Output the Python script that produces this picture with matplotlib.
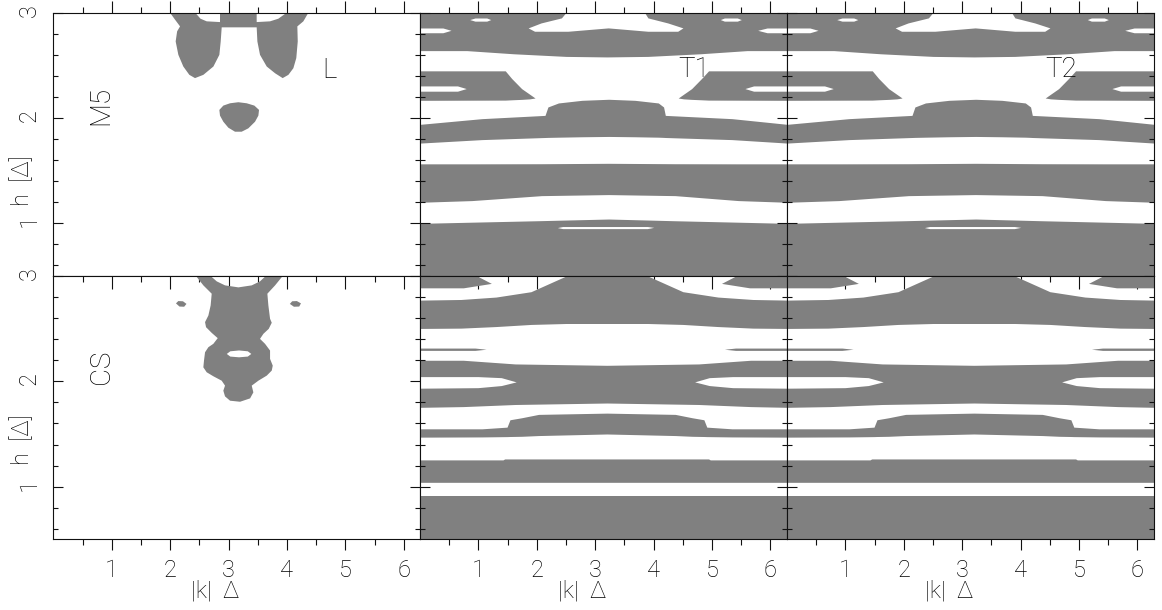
import matplotlib

matplotlib.use("Agg")
import matplotlib.pyplot as plt
from matplotlib.ticker import FixedLocator

GRAY = "#808080"
K_END = 6.2832
H_LO, H_HI = 0.5, 3.0

k_major = [1, 2, 3, 4, 5, 6]
k_minor = [0.5, 1.5, 2.5, 3.5, 4.5, 5.5]
h_major = [1, 2, 3]
h_minor = [0.6, 0.8, 1.2, 1.4, 1.6, 1.8, 2.2, 2.4, 2.6, 2.8]

# ---- M5 / L (top left): horns + bridge outline, small blob near h=2
l_horns_k = [1.998, 2.43, 2.52, 2.626, 2.854, 2.854, 3.482, 3.482, 3.711, 3.853,
             3.996, 4.367, 4.281, 4.178, 4.185, 4.160, 4.110, 4.025, 3.927, 3.797,
             3.654, 3.539, 3.494, 3.482, 2.883, 2.866, 2.843, 2.741, 2.569, 2.426,
             2.329, 2.226, 2.141, 2.095, 2.120, 2.170, 2.084]
l_horns_h = [3.0, 3.0, 2.943, 2.918, 2.911, 3.0, 3.0, 2.911, 2.918, 2.943,
             3.0, 3.0, 2.918, 2.870, 2.727, 2.569, 2.473, 2.410, 2.379, 2.425,
             2.489, 2.600, 2.727, 2.861, 2.861, 2.727, 2.600, 2.489, 2.410, 2.379,
             2.410, 2.489, 2.600, 2.727, 2.823, 2.870, 2.934]
l_blob_k = [2.843, 2.911, 3.026, 3.168, 3.311, 3.442, 3.522, 3.511, 3.454, 3.339,
            3.225, 3.111, 2.997, 2.911, 2.854]
l_blob_h = [2.077, 2.118, 2.140, 2.150, 2.140, 2.118, 2.077, 2.023, 1.965, 1.902,
            1.870, 1.870, 1.908, 1.965, 2.023]

# ---- M5 / CS (bottom left)
cs_body_k = [2.443, 2.694, 2.798, 2.940, 3.169, 3.397, 3.539, 3.637, 3.927, 3.797,
             3.665, 3.682, 3.711, 3.740, 3.688, 3.597, 3.539, 3.625, 3.711, 3.711,
             3.757, 3.740, 3.654, 3.511, 3.397, 3.425, 3.369, 3.197, 3.026, 2.940,
             2.911, 2.940, 2.883, 2.740, 2.626, 2.569, 2.580, 2.598, 2.655, 2.740,
             2.815, 2.712, 2.615, 2.598, 2.655, 2.694, 2.712, 2.569]
cs_body_h = [3.0, 3.0, 2.949, 2.911, 2.892, 2.911, 2.949, 3.0, 3.0, 2.911,
             2.832, 2.721, 2.594, 2.556, 2.498, 2.451, 2.403, 2.356, 2.292, 2.213,
             2.149, 2.102, 2.054, 2.006, 1.959, 1.895, 1.838, 1.806, 1.816, 1.857,
             1.911, 1.959, 2.006, 2.048, 2.086, 2.133, 2.197, 2.276, 2.324, 2.356,
             2.410, 2.460, 2.514, 2.562, 2.625, 2.721, 2.832, 2.911]
cs_hole_k = [2.97, 3.03, 3.18, 3.33, 3.39, 3.33, 3.18, 3.03]
cs_hole_h = [2.26, 2.285, 2.293, 2.285, 2.26, 2.235, 2.228, 2.235]
cs_dot_l_k = [2.10, 2.14, 2.22, 2.28, 2.24, 2.16]
cs_dot_l_h = [2.74, 2.762, 2.76, 2.735, 2.708, 2.71]
cs_dot_r_k = [4.05, 4.09, 4.17, 4.24, 4.21, 4.12]
cs_dot_r_h = [2.735, 2.76, 2.762, 2.74, 2.71, 2.708]

# ---- T1 / T2 upper row: gray bands (lower/upper edge over k)
tu_b1_k = [0.0, 0.8, 1.6, 2.5, 3.2, 3.9, 4.8, 5.6, 6.29]
tu_b1_lo = [2.64, 2.64, 2.61, 2.585, 2.58, 2.585, 2.61, 2.64, 2.64]
tu_b1_hi = [3.0, 3.0, 3.0, 3.0, 3.0, 3.0, 3.0, 3.0, 3.0]
tu_wl_k = [0.0, 1.46, 1.57, 1.74, 1.88, 1.97]
tu_wl_lo = [2.168, 2.170, 2.173, 2.177, 2.182, 2.19]
tu_wl_hi = [2.448, 2.448, 2.375, 2.279, 2.225, 2.19]
tu_wr_k = [4.42, 4.51, 4.65, 4.82, 4.94, 6.29]
tu_wr_lo = [2.19, 2.182, 2.177, 2.173, 2.170, 2.168]
tu_wr_hi = [2.19, 2.225, 2.279, 2.375, 2.448, 2.448]
tu_b3_k = [0.0, 1.06, 2.14, 2.19, 2.37, 2.77, 3.23, 3.68, 4.08, 4.17, 4.20, 5.34, 6.29]
tu_b3_lo = [1.762, 1.795, 1.815, 1.816, 1.818, 1.822, 1.825, 1.822, 1.818, 1.816,
            1.815, 1.795, 1.762]
tu_b3_hi = [1.94, 1.994, 2.025, 2.105, 2.143, 2.168, 2.178, 2.168, 2.143, 2.105,
            2.025, 1.994, 1.94]
tu_b4_k = [0.0, 0.89, 2.08, 3.23, 4.37, 5.45, 6.29]
tu_b4_lo = [1.20, 1.216, 1.263, 1.273, 1.263, 1.216, 1.20]
tu_b4_hi = [1.565, 1.565, 1.566, 1.57, 1.566, 1.565, 1.565]
tu_b5_k = [0.0, 2.03, 3.23, 4.34, 6.29]
tu_b5_lo = [0.5, 0.5, 0.5, 0.5, 0.5]
tu_b5_hi = [1.0, 1.025, 1.041, 1.025, 1.0]
# white openings inside the gray bands
tu_hat_k = [2.51, 3.85, 3.91, 4.25, 4.51, 4.42, 3.91, 3.23, 2.54, 1.97, 1.86, 2.08, 2.43]
tu_hat_h = [3.0, 3.0, 2.946, 2.898, 2.851, 2.819, 2.819, 2.851, 2.819, 2.819, 2.851,
            2.898, 2.946]
tu_sa_l_k = [0.0, 0.40, 0.54, 0.40, 0.0]
tu_sa_r_k = [6.29, 5.95, 5.79, 5.95, 6.29]
tu_sa_h = [2.85, 2.85, 2.828, 2.805, 2.805]
tu_sb_l_k = [0.86, 0.95, 1.15, 1.22, 1.15, 0.95]
tu_sb_r_k = [5.15, 5.22, 5.44, 5.51, 5.44, 5.22]
tu_sb_h = [2.93, 2.945, 2.945, 2.93, 2.915, 2.915]
tu_ws_l_k = [0.0, 0.65, 0.80, 0.65, 0.0]
tu_ws_r_k = [6.29, 5.72, 5.57, 5.72, 6.29]
tu_ws_h = [2.30, 2.30, 2.275, 2.25, 2.25]
tu_sc_k = [2.36, 2.45, 3.90, 4.01, 3.90, 2.45]
tu_sc_h = [0.955, 0.965, 0.965, 0.957, 0.945, 0.945]

# ---- T1 / T2 lower row
tl_b1_k = [0.0, 0.7, 1.3, 1.9, 2.5, 3.9, 4.5, 5.1, 5.7, 6.29]
tl_b1_lo = [2.502, 2.505, 2.52, 2.54, 2.549, 2.549, 2.54, 2.52, 2.505, 2.502]
tl_b1_hi = [2.771, 2.777, 2.80, 2.851, 3.0, 3.0, 2.851, 2.80, 2.777, 2.771]
tl_b2_k = [0.0, 0.74, 1.63, 3.2, 4.77, 5.66, 6.29]
tl_b2_lo = [1.753, 1.76, 1.78, 1.794, 1.78, 1.76, 1.753]
tl_b2_hi = [2.2, 2.2, 2.165, 2.152, 2.165, 2.2, 2.2]
tl_b3_k = [0.0, 1.06, 1.49, 1.54, 1.74, 2.03, 3.2, 4.37, 4.66, 4.86, 4.91, 5.34, 6.29]
tl_b3_lo = [1.470, 1.472, 1.475, 1.476, 1.478, 1.485, 1.50, 1.485, 1.478, 1.476,
            1.475, 1.472, 1.470]
tl_b3_hi = [1.549, 1.549, 1.565, 1.635, 1.654, 1.686, 1.698, 1.686, 1.654, 1.635,
            1.565, 1.549, 1.549]
tl_b4_k = [0.0, 1.42, 1.45, 4.94, 4.97, 6.29]
tl_b4_lo = [1.041, 1.041, 1.041, 1.041, 1.041, 1.041]
tl_b4_hi = [1.254, 1.254, 1.263, 1.263, 1.254, 1.254]
tl_b5_k = [0.0, 6.29]
tl_b5_lo = [0.5, 0.5]
tl_b5_hi = [0.914, 0.914]
# small gray pieces sitting in white
tl_top_l_k = [0.0, 0.97, 1.23, 0.75, 0.0]
tl_top_r_k = [6.29, 5.43, 5.17, 5.65, 6.29]
tl_top_h = [3.0, 3.0, 2.925, 2.883, 2.883]
tl_sl_l_k = [0.0, 0.95, 1.14, 0.95, 0.0]
tl_sl_r_k = [6.29, 5.41, 5.22, 5.41, 6.29]
tl_sl_h = [2.311, 2.311, 2.30, 2.289, 2.289]
# white pockets
tl_pk_l_k = [0.0, 1.0, 1.4, 1.655, 1.4, 1.0, 0.0]
tl_pk_r_k = [6.29, 5.36, 4.96, 4.71, 4.96, 5.36, 6.29]
tl_pk_h = [2.04, 2.04, 2.03, 1.99, 1.955, 1.935, 1.93]


def band(ax, k, lo, hi, color=GRAY, z=1):
    ax.fill_between(k, lo, hi, color=color, linewidth=0, zorder=z)


def shape(ax, k, h, color=GRAY, z=2):
    ax.fill(k, h, color=color, linewidth=0, zorder=z)


def draw_t_upper(ax):
    band(ax, tu_b1_k, tu_b1_lo, tu_b1_hi)
    band(ax, tu_wl_k, tu_wl_lo, tu_wl_hi)
    band(ax, tu_wr_k, tu_wr_lo, tu_wr_hi)
    band(ax, tu_b3_k, tu_b3_lo, tu_b3_hi)
    band(ax, tu_b4_k, tu_b4_lo, tu_b4_hi)
    band(ax, tu_b5_k, tu_b5_lo, tu_b5_hi)
    for k, h in [(tu_hat_k, tu_hat_h), (tu_sa_l_k, tu_sa_h), (tu_sa_r_k, tu_sa_h),
                 (tu_sb_l_k, tu_sb_h), (tu_sb_r_k, tu_sb_h), (tu_ws_l_k, tu_ws_h),
                 (tu_ws_r_k, tu_ws_h), (tu_sc_k, tu_sc_h)]:
        shape(ax, k, h, "white")


def draw_t_lower(ax):
    band(ax, tl_b1_k, tl_b1_lo, tl_b1_hi)
    band(ax, tl_b2_k, tl_b2_lo, tl_b2_hi)
    band(ax, tl_b3_k, tl_b3_lo, tl_b3_hi)
    band(ax, tl_b4_k, tl_b4_lo, tl_b4_hi)
    band(ax, tl_b5_k, tl_b5_lo, tl_b5_hi)
    shape(ax, tl_top_l_k, tl_top_h)
    shape(ax, tl_top_r_k, tl_top_h)
    shape(ax, tl_sl_l_k, tl_sl_h)
    shape(ax, tl_sl_r_k, tl_sl_h)
    shape(ax, tl_pk_l_k, tl_pk_h, "white")
    shape(ax, tl_pk_r_k, tl_pk_h, "white")


def style(ax, row, col):
    ax.set_xlim(0, K_END)
    ax.set_ylim(H_LO, H_HI)
    for s in ax.spines.values():
        s.set_linewidth(0.8)
        s.set_color("#111111")
    ax.xaxis.set_major_locator(FixedLocator(k_major))
    ax.xaxis.set_minor_locator(FixedLocator(k_minor))
    ax.yaxis.set_major_locator(FixedLocator(h_major))
    ax.yaxis.set_minor_locator(FixedLocator(h_minor))
    ax.tick_params(axis="y", which="both", direction="in", left=True, right=True,
                   labelleft=(col == 0), labelright=False, width=0.8,
                   labelrotation=90, labelsize=17, pad=9, color="#111111")
    ax.tick_params(axis="y", which="major", length=7)
    ax.tick_params(axis="y", which="minor", length=3.5)
    if row == 0:
        ax.tick_params(axis="x", which="both", direction="out", top=True, bottom=False,
                       labeltop=False, labelbottom=False, width=0.8, color="#111111")
        ax.tick_params(axis="x", which="major", length=9)
        ax.tick_params(axis="x", which="minor", length=4.5)
    else:
        ax.tick_params(axis="x", which="both", direction="out", top=False, bottom=True,
                       labelbottom=True, labelsize=17, width=0.8, color="#111111")
        ax.tick_params(axis="x", which="major", length=8, pad=6)
        ax.tick_params(axis="x", which="minor", length=4)
        sec = ax.secondary_xaxis("top")
        sec.xaxis.set_major_locator(FixedLocator(k_major))
        sec.xaxis.set_minor_locator(FixedLocator(k_minor))
        sec.tick_params(axis="x", which="both", direction="in", labeltop=False,
                        width=0.8, color="#111111")
        sec.tick_params(axis="x", which="major", length=9)
        sec.tick_params(axis="x", which="minor", length=4.5)
        sec.spines["top"].set_visible(False)
        ax.text(0.442, -0.196, "|k|  Δ", transform=ax.transAxes, ha="center",
                va="center", fontsize=17)
    if col == 0:
        ax.text(-0.085, 0.361 if row == 0 else 0.377, "h  [Δ]", transform=ax.transAxes,
                rotation=90, ha="center", va="center", fontsize=17)


def main() -> None:
    plt.rcParams["font.family"] = ["Roboto", "DejaVu Sans"]
    plt.rcParams["font.weight"] = "light"
    plt.rcParams["text.color"] = "black"

    fig = plt.figure(figsize=(11.62, 6.10), dpi=100)
    lefts = [53.3 / 1162, 420 / 1162, 787 / 1162]
    width = 367 / 1162
    bottoms = [1 - 276 / 610, 1 - 539.3 / 610]
    height = 263.3 / 610

    axes = [[fig.add_axes([l, b, width, height]) for l in lefts] for b in bottoms]

    ax = axes[0][0]
    shape(ax, l_horns_k, l_horns_h)
    shape(ax, l_blob_k, l_blob_h)
    ax.text(0.817, 2.12, "M5", rotation=90, ha="center", va="center", fontsize=20)
    ax.text(4.72, 2.455, "L", ha="center", va="center", fontsize=20)

    ax = axes[1][0]
    shape(ax, cs_body_k, cs_body_h)
    shape(ax, cs_hole_k, cs_hole_h, "white", z=3)
    shape(ax, cs_dot_l_k, cs_dot_l_h)
    shape(ax, cs_dot_r_k, cs_dot_r_h)
    ax.text(0.817, 2.133, "CS", rotation=90, ha="center", va="center", fontsize=20)

    for col, name in [(1, "T1"), (2, "T2")]:
        draw_t_upper(axes[0][col])
        draw_t_lower(axes[1][col])
        axes[0][col].text(4.70, 2.46, name, ha="center", va="center", fontsize=20,
                          zorder=5)

    for row in range(2):
        for col in range(3):
            style(axes[row][col], row, col)

    fig.savefig("out.png", dpi=100)


if __name__ == "__main__":
    main()
